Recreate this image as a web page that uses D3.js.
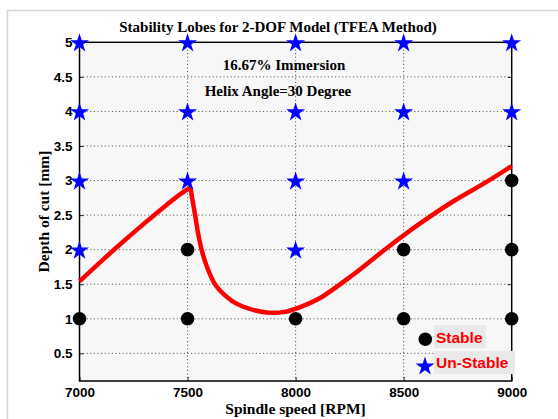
<!DOCTYPE html>
<html>
<head>
<meta charset="utf-8">
<script src="https://cdn.jsdelivr.net/npm/d3@7"></script>
<style>
	body { margin: 0; background: #fff; }
	svg { display: block; }
</style>
</head>
<body>
<svg width="558" height="419"></svg>
<script>
// data
const xTicks = [7000, 7500, 8000, 8500, 9000]
const yTicks = [0.5, 1, 1.5, 2, 2.5, 3, 3.5, 4, 4.5, 5]

// stability lobe boundary
const lobeRpm = [7000, 7100, 7200, 7300, 7400, 7470, 7505, 7512, 7521, 7535, 7548, 7565, 7590, 7627, 7680, 7720, 7780, 7866, 7950, 8030, 8113, 8267, 8421, 8576, 8730, 8884, 9000]
const lobeDepth = [1.54, 1.83, 2.11, 2.38, 2.64, 2.81, 2.88, 2.89, 2.75, 2.5, 2.25, 2.0, 1.75, 1.5, 1.32, 1.23, 1.15, 1.09, 1.10, 1.18, 1.30, 1.64, 2.02, 2.38, 2.70, 2.98, 3.21]

// test points
const stableRpm = [7000, 7500, 8000, 8500, 9000, 7500, 8500, 9000, 9000]
const stableDepth = [1, 1, 1, 1, 1, 2, 2, 2, 3]
const unstableRpm = [7000, 8000, 7000, 7500, 8000, 8500, 7000, 7500, 8000, 8500, 9000, 7000, 7500, 8000, 8500, 9000]
const unstableDepth = [2, 2, 3, 3, 3, 3, 4, 4, 4, 4, 4, 5, 5, 5, 5, 5]

const legendLabels = ['Stable', 'Un-Stable']

const svg = d3.select('svg')
const plotLeft = 79.5, plotRight = 511.7, plotTop = 42.3, plotBottom = 381

const x = d3.scaleLinear().domain([7000, 9000]).range([plotLeft, plotRight])
const y = d3.scaleLinear().domain([0.1, 5]).range([plotBottom, plotTop])

// figure frame
svg.append('path')
	.attr('d', 'M7.5,419V10.5H558')
	.attr('fill', 'none')
	.attr('stroke', '#d4d4d4')
	.attr('stroke-width', 1.5)

// plot background
svg.append('rect')
	.attr('x', plotLeft).attr('y', plotTop)
	.attr('width', plotRight - plotLeft).attr('height', plotBottom - plotTop)
	.attr('fill', '#f7f7f7')

// grid
const grid = svg.append('g')
	.attr('stroke', '#444')
	.attr('stroke-width', 1)
	.attr('stroke-dasharray', '1,2.6')
grid.selectAll('.gx')
	.data(xTicks.slice(1, -1))
	.enter()
	.append('line')
	.attr('x1', (d) => x(d)).attr('x2', (d) => x(d))
	.attr('y1', plotTop).attr('y2', plotBottom)
grid.selectAll('.gy')
	.data(yTicks.slice(0, -1))
	.enter()
	.append('line')
	.attr('y1', (d) => y(d)).attr('y2', (d) => y(d))
	.attr('x1', plotLeft).attr('x2', plotRight)

// axes
const font = '"Liberation Sans", Arial, sans-serif'
const xAxis = svg.append('g')
	.attr('transform', `translate(0,${plotBottom})`)
	.call(d3.axisBottom(x).tickValues(xTicks).tickSize(-4).tickPadding(6.5).tickFormat(d3.format('d')))
const yAxis = svg.append('g')
	.attr('transform', `translate(${plotLeft},0)`)
	.call(d3.axisLeft(y).tickValues(yTicks).tickSize(-4).tickPadding(7).tickFormat((d) => String(d)))
const xTop = svg.append('g')
	.attr('transform', `translate(0,${plotTop})`)
	.call(d3.axisTop(x).tickValues(xTicks).tickSize(-4).tickFormat(''))
const yRight = svg.append('g')
	.attr('transform', `translate(${plotRight},0)`)
	.call(d3.axisRight(y).tickValues(yTicks).tickSize(-4).tickFormat(''))

for (const a of [xAxis, yAxis, xTop, yRight]) {
	a.select('.domain').remove()
	a.selectAll('line').attr('stroke', '#222')
	a.selectAll('text')
		.attr('fill', '#000')
		.style('font-family', font)
		.style('font-weight', 'bold')
		.style('font-size', '13.5px')
}

svg.append('rect')
	.attr('x', plotLeft).attr('y', plotTop)
	.attr('width', plotRight - plotLeft).attr('height', plotBottom - plotTop)
	.attr('fill', 'none')
	.attr('stroke', '#000')
	.attr('stroke-width', 1.5)

// lobe line
const line = d3.line()
	.x((d) => x(d[0]))
	.y((d) => y(d[1]))
	.curve(d3.curveCatmullRom.alpha(0.5))

svg.append('path')
	.datum(lobeRpm.map((r, i) => [r, lobeDepth[i]]))
	.attr('d', line)
	.attr('fill', 'none')
	.attr('stroke', '#ff0000')
	.attr('stroke-width', 4.5)
	.attr('stroke-linejoin', 'round')

// markers
const star = d3.symbol().type(d3.symbolStar).size(112)

svg.append('g')
	.selectAll('circle')
	.data(stableRpm.map((r, i) => [r, stableDepth[i]]))
	.enter()
	.append('circle')
	.attr('cx', (d) => x(d[0]))
	.attr('cy', (d) => y(d[1]))
	.attr('r', 6.8)
	.attr('fill', '#000')

svg.append('g')
	.selectAll('path')
	.data(unstableRpm.map((r, i) => [r, unstableDepth[i]]))
	.enter()
	.append('path')
	.attr('d', star)
	.attr('transform', (d) => `translate(${x(d[0])},${y(d[1]) + 1})`)
	.attr('fill', '#0000ff')

// legend
const legend = svg.append('g')
legend.append('rect')
	.attr('x', 434).attr('y', 325).attr('width', 52).attr('height', 23)
	.attr('fill', '#e9e9e9')
legend.append('rect')
	.attr('x', 434).attr('y', 351).attr('width', 81).attr('height', 23)
	.attr('fill', '#e9e9e9')
legend.append('circle')
	.attr('cx', 425.3).attr('cy', 339.3).attr('r', 6.8)
	.attr('fill', '#000')
legend.append('path')
	.attr('d', star)
	.attr('transform', 'translate(425,366.5)')
	.attr('fill', '#0000ff')
legend.selectAll('text')
	.data(legendLabels)
	.enter()
	.append('text')
	.attr('x', 436)
	.attr('y', (d, i) => 342.5 + i * 25.5)
	.attr('fill', '#ff0000')
	.style('font-family', font)
	.style('font-weight', 'bold')
	.style('font-size', '15.5px')
	.text((d) => d)

// titles
const serif = '"Liberation Serif", "Times New Roman", serif'
const addText = (txt, tx, ty, size, rotate) => {
	const t = svg.append('text')
		.attr('text-anchor', 'middle')
		.attr('fill', '#000')
		.style('font-family', serif)
		.style('font-weight', 'bold')
		.style('font-size', size + 'px')
		.text(txt)
	if (rotate) {
		t.attr('transform', `translate(${tx},${ty}) rotate(-90)`)
	} else {
		t.attr('x', tx).attr('y', ty)
	}
	return t
}
addText('Stability Lobes for 2-DOF Model (TFEA Method)', 278, 32, 15)
addText('16.67% Immersion', 284, 70, 15)
addText('Helix Angle=30 Degree', 278, 95.5, 15)
addText('Spindle speed [RPM]', 295.5, 414, 15.5)
addText('Depth of cut [mm]', 48.5, 211.5, 15.5, true)
</script>
</body>
</html>
